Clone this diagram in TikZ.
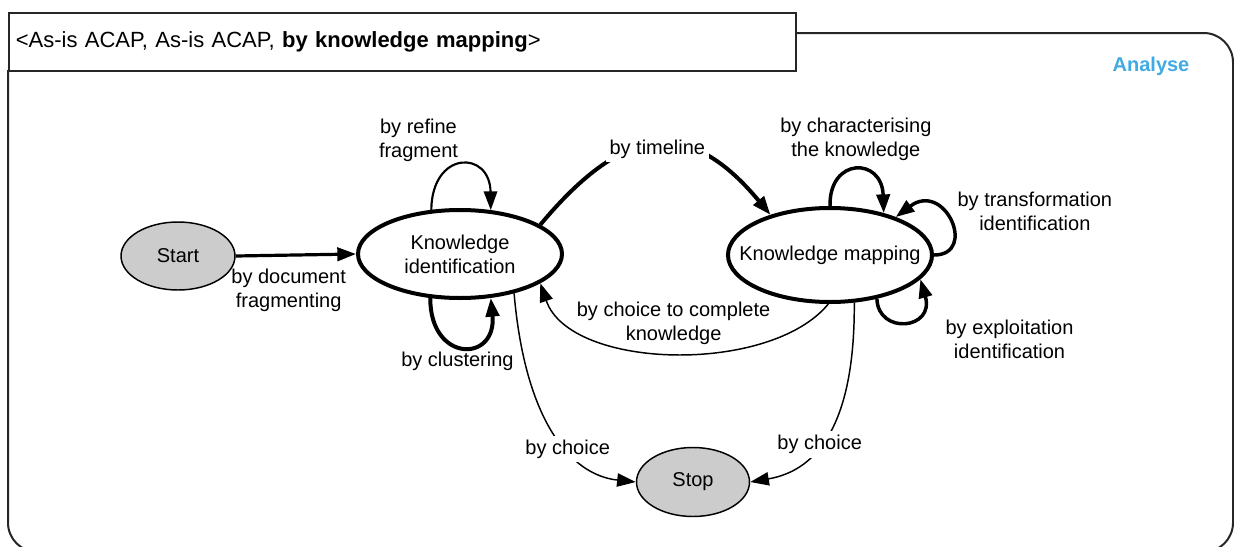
\documentclass[tikz,border=0pt]{standalone}
\usepackage{fontspec}
\setmainfont{Liberation Sans}
\usetikzlibrary{positioning,arrows.meta,shapes.geometric}
\definecolor{anblue}{RGB}{64,170,228}
\tikzset{
  txt/.style={font=\fontsize{15}{18}\selectfont},
  lbl/.style={txt,align=center,inner sep=1.5pt},
  lblw/.style={lbl,fill=white,inner sep=3pt},                    % label that cuts its line
  st/.style={ellipse,draw,line width=3pt,inner sep=0pt,txt,align=center},
  endst/.style={ellipse,draw,line width=1.1pt,fill=black!20,inner sep=0pt,txt},
  tr/.style={-{Triangle[length=14pt,width=10pt]},line width=1.1pt},
  trk/.style={tr,line width=2.6pt},
  frm/.style={line width=1.5pt,draw=black!85},
}
\begin{document}
\begin{tikzpicture}[x=0.75pt,y=-0.75pt]
  \useasboundingbox (0,0) rectangle (1234,546);
  % package frame and its name tab
  \draw[frm,rounded corners=22pt] (795,33) -- (1233,33) -- (1233,552) -- (8,552) -- (8,70);
  \node[frm,font=\fontsize{16.5}{19}\selectfont,anchor=north west,minimum width=590.25pt,
        minimum height=43.5pt,text width=580pt,inner xsep=4.5pt,align=left] (hdr) at (8,12)
    {<As-is ACAP, As-is ACAP, \textbf{by knowledge mapping}>};
  \node[txt,font=\bfseries\fontsize{15}{18}\selectfont,text=anblue] (ana) at (1151,66) {Analyse};

  % states
  \node[endst,minimum width=85.5pt,minimum height=51pt] (start) at (178,256) {Start};
  \node[st,minimum width=153pt,minimum height=66pt] (ki) at (460,254) {Knowledge\\identification};
  \node[st,minimum width=153pt,minimum height=70.5pt,inner xsep=-15pt] (km) at (830,255) {Knowledge mapping};
  \node[endst,minimum width=84.75pt,minimum height=51.75pt] (stop) at (693,482) {Stop};

  % transitions
  \draw[trk,line width=2.4pt] (start.east) -- (ki.west)
    node[lbl,below=8pt,pos=.44] {by document\\fragmenting};
  \draw[tr,line width=1.6pt] (ki.123) .. controls (432,150) and (490,150) .. (ki.55)
    node[lbl,anchor=south east,pos=.5] {by refine\\fragment};
  \draw[trk,line width=3pt] (ki.236) .. controls (430,363) and (497,363) .. (ki.305)
    node[lbl,below=1pt,pos=.5,xshift=-4pt] {by clustering};
  \draw[trk,line width=3pt] (ki.20) .. controls (626,122) and (690,118) .. (km.146)
    node[lblw,pos=.5,yshift=-3pt] {by timeline};
  \draw[trk] (km.90) .. controls (829,157) and (882,157) .. (km.38)
    node[lbl,above=4pt,pos=.5] {by characterising\\the knowledge};
  \draw[trk] (km.0) .. controls (978,255) and (945,180) .. (km.30)
    node[lbl,anchor=west,pos=.5,xshift=3pt,yshift=8pt] {by transformation\\identification};
  \draw[trk] (km.317) .. controls (878,335) and (935,330) .. (km.345)
    node[lbl,anchor=west,pos=.5,xshift=28pt,yshift=-13pt] {by exploitation\\identification};
  \draw[tr] (km.268) .. controls (770,375) and (570,370) .. (ki.340)
    node[lbl,above=4pt,pos=.5] {by choice to complete\\knowledge};
  \draw[tr] (ki.324) .. controls (525,420) and (570,475) .. (stop.west)
    node[lblw,pos=.6] {by choice};
  \draw[tr] (km.297) .. controls (855,420) and (820,470) .. (stop.east)
    node[lblw,pos=.58] {by choice};
\end{tikzpicture}
\end{document}
